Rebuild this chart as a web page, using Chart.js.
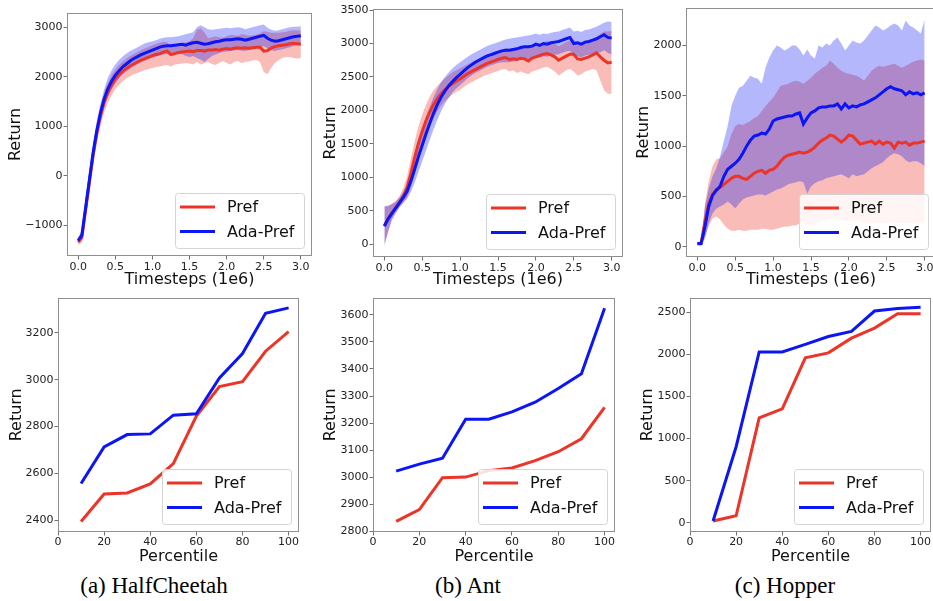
<!DOCTYPE html>
<html>
<head>
<meta charset="utf-8">
<script src="https://cdn.jsdelivr.net/npm/chart.js@4/dist/chart.umd.min.js"></script>
<style>
  body { margin: 0; width: 933px; height: 601px; overflow: hidden; background: #fff; position: relative; }
  canvas { position: absolute; }
  .cap { position: absolute; top: 574px; width: 220px; text-align: center; font: 23px/23px 'Liberation Serif', 'Times New Roman', serif; color: #000; white-space: nowrap; }
</style>
</head>
<body>
<canvas id="hcCurve" width="316" height="292" style="left:0;top:0"></canvas>
<canvas id="antCurve" width="316" height="292" style="left:311px;top:0"></canvas>
<canvas id="hopCurve" width="320" height="292" style="left:622px;top:0"></canvas>
<canvas id="hcPct" width="303" height="280" style="left:0;top:290px"></canvas>
<canvas id="antPct" width="308" height="280" style="left:311px;top:290px"></canvas>
<canvas id="hopPct" width="313" height="280" style="left:622px;top:290px"></canvas>
<div class="cap" style="left:44px">(a) HalfCheetah</div>
<div class="cap" style="left:358px">(b) Ant</div>
<div class="cap" style="left:675px">(c) Hopper</div>

<script>
// timesteps (1e6)
const steps = [
  0, 0.05, 0.1, 0.15, 0.2, 0.25, 0.3, 0.35, 0.4, 0.45,
  0.5, 0.55, 0.6, 0.65, 0.7, 0.75, 0.8, 0.85, 0.9, 0.95,
  1.0, 1.05, 1.1, 1.15, 1.2, 1.25, 1.3, 1.35, 1.4, 1.45,
  1.5, 1.55, 1.6, 1.65, 1.7, 1.75, 1.8, 1.85, 1.9, 1.95,
  2.0, 2.05, 2.1, 2.15, 2.2, 2.25, 2.3, 2.35, 2.4, 2.45,
  2.5, 2.55, 2.6, 2.65, 2.7, 2.75, 2.8, 2.85, 2.9, 2.95,
  3.0
];
const timeTicks = [0, 0.5, 1.0, 1.5, 2.0, 2.5, 3.0];
const percentiles = [10, 20, 30, 40, 50, 60, 70, 80, 90, 100];
const percentileTicks = [0, 20, 40, 60, 80, 100];

// HalfCheetah learning curves
const hcPrefMean = [
  -1340, -1250, -700, -150, 400, 850, 1200, 1480, 1680, 1830,
  1950, 2040, 2110, 2170, 2220, 2260, 2300, 2340, 2370, 2400,
  2430, 2450, 2470, 2500, 2520, 2450, 2470, 2490, 2500, 2510,
  2520, 2510, 2530, 2530, 2520, 2540, 2540, 2550, 2540, 2560,
  2570, 2560, 2580, 2590, 2580, 2590, 2580, 2590, 2600, 2600,
  2520, 2530, 2580, 2610, 2630, 2640, 2650, 2670, 2680, 2670,
  2660
];
const hcPrefLow = [
  -1400, -1350, -850, -350, 200, 650, 1000, 1280, 1480, 1630,
  1750, 1840, 1910, 1970, 2010, 2050, 2080, 2110, 2140, 2160,
  2180, 2200, 2210, 2230, 2240, 2210, 2250, 2260, 2270, 2280,
  2270, 2250, 2300, 2250, 2280, 2300, 2260, 2240, 2280, 2320,
  2280, 2250, 2300, 2320, 2280, 2300, 2310, 2330, 2340, 2300,
  2100, 2050, 2180, 2280, 2340, 2380, 2400, 2400, 2380, 2370,
  2380
];
const hcPrefHigh = [
  -1280, -1150, -550, 50, 600, 1050, 1400, 1680, 1880, 2030,
  2150, 2240, 2310, 2370, 2420, 2460, 2500, 2540, 2580, 2610,
  2640, 2670, 2690, 2710, 2700, 2620, 2650, 2670, 2690, 2700,
  2720, 2780, 2950, 2980, 2900, 2780, 2800, 2820, 2800, 2790,
  2820, 2850, 2840, 2830, 2860, 2850, 2830, 2840, 2850, 2880,
  2920, 2910, 2890, 2890, 2890, 2900, 2910, 2930, 2940, 2940,
  2930
];
const hcAdaMean = [
  -1310, -1200, -650, -100, 450, 900, 1270, 1550, 1760, 1910,
  2030, 2120, 2200, 2260, 2320, 2370, 2410, 2450, 2480, 2510,
  2540, 2570, 2600, 2620, 2630, 2630, 2640, 2650, 2660, 2640,
  2670, 2690, 2700, 2680, 2660, 2670, 2690, 2710, 2720, 2740,
  2750, 2750, 2760, 2770, 2760, 2740, 2760, 2780, 2800, 2820,
  2840, 2780, 2740, 2720, 2730, 2750, 2770, 2790, 2810, 2820,
  2830
];
const hcAdaLow = [
  -1350, -1300, -800, -250, 300, 750, 1120, 1400, 1600, 1750,
  1870, 1970, 2050, 2110, 2170, 2220, 2260, 2300, 2330, 2360,
  2390, 2410, 2430, 2450, 2460, 2450, 2460, 2470, 2460, 2420,
  2400, 2420, 2380, 2350, 2300, 2360, 2420, 2450, 2480, 2500,
  2510, 2520, 2530, 2540, 2530, 2520, 2540, 2560, 2580, 2600,
  2620, 2580, 2540, 2520, 2540, 2560, 2580, 2600, 2620, 2640,
  2650
];
const hcAdaHigh = [
  -1250, -1100, -450, 100, 650, 1100, 1450, 1750, 1980, 2130,
  2250, 2340, 2410, 2470, 2520, 2560, 2600, 2640, 2680, 2700,
  2720, 2740, 2770, 2790, 2800, 2800, 2810, 2820, 2840, 2860,
  2880, 2900, 3000, 3040, 3000, 2960, 2950, 2960, 2970, 2980,
  2990, 2980, 2990, 3000, 2990, 2960, 2980, 3000, 3020, 3040,
  3060, 2990, 2950, 2930, 2940, 2960, 2980, 3000, 3010, 3010,
  3020
];

// Ant learning curves
const antPrefMean = [
  280, 380, 470, 550, 630, 720, 850, 1060, 1300, 1510,
  1690, 1850, 1980, 2090, 2180, 2250, 2310, 2360, 2400, 2440,
  2470, 2510, 2550, 2580, 2610, 2640, 2670, 2700, 2720, 2740,
  2760, 2780, 2790, 2760, 2770, 2760, 2780, 2770, 2740, 2780,
  2800, 2820, 2840, 2850, 2830, 2800, 2750, 2780, 2810, 2840,
  2840, 2770, 2760, 2780, 2800, 2830, 2860, 2800, 2750, 2710,
  2720
];
const antPrefLow = [
  0, 200, 380, 480, 560, 620, 700, 860, 1080, 1290,
  1470, 1630, 1770, 1890, 1990, 2070, 2140, 2190, 2240, 2280,
  2310, 2350, 2390, 2420, 2450, 2480, 2510, 2530, 2550, 2570,
  2590, 2610, 2620, 2580, 2600, 2560, 2580, 2560, 2540, 2580,
  2600, 2620, 2640, 2650, 2620, 2580, 2520, 2560, 2600, 2620,
  2580, 2520, 2540, 2580, 2600, 2620, 2600, 2450, 2300, 2250,
  2250
];
const antPrefHigh = [
  560, 570, 600, 640, 720, 840, 1020, 1280, 1540, 1760,
  1940, 2090, 2210, 2300, 2370, 2430, 2480, 2530, 2570, 2600,
  2630, 2660, 2690, 2720, 2750, 2780, 2800, 2830, 2850, 2870,
  2890, 2910, 2930, 2920, 2930, 2940, 2960, 2950, 2930, 2960,
  2980, 3000, 3020, 3040, 3020, 3000, 2960, 2990, 3020, 3050,
  3060, 3000, 2990, 3000, 3020, 3060, 3100, 3140, 3180, 3180,
  3190
];
const antAdaMean = [
  270, 380, 460, 540, 620, 700, 790, 940, 1120, 1310,
  1480, 1650, 1810, 1960, 2090, 2200, 2290, 2370, 2430, 2490,
  2540, 2590, 2640, 2680, 2720, 2750, 2780, 2810, 2830, 2850,
  2870, 2890, 2900, 2900, 2910, 2920, 2940, 2950, 2950, 2960,
  2990, 2970, 3000, 2990, 3010, 3020, 3030, 3050, 3070, 3090,
  3000, 3010, 2990, 3020, 3030, 3050, 3070, 3100, 3130, 3090,
  3080
];
const antAdaLow = [
  -30, 180, 360, 460, 550, 620, 680, 780, 920, 1080,
  1240, 1400, 1560, 1720, 1860, 1990, 2100, 2190, 2270, 2330,
  2380, 2430, 2480, 2520, 2560, 2590, 2620, 2650, 2670, 2690,
  2710, 2720, 2720, 2720, 2730, 2740, 2760, 2770, 2770, 2780,
  2800, 2790, 2810, 2800, 2820, 2830, 2840, 2860, 2880, 2890,
  2800, 2810, 2790, 2820, 2830, 2840, 2850, 2870, 2900, 2860,
  2830
];
const antAdaHigh = [
  570, 580, 600, 640, 700, 780, 900, 1100, 1320, 1540,
  1730, 1900, 2060, 2200, 2320, 2420, 2500, 2570, 2630, 2680,
  2720, 2760, 2800, 2840, 2870, 2900, 2930, 2960, 2980, 3000,
  3020, 3040, 3060, 3070, 3080, 3090, 3100, 3110, 3120, 3130,
  3150, 3130, 3150, 3140, 3160, 3170, 3180, 3200, 3220, 3240,
  3180, 3190, 3170, 3200, 3210, 3230, 3250, 3280, 3310, 3330,
  3320
];

// Hopper learning curves
const hopPrefMean = [
  30, 40, 250, 430, 520, 570, 590, 620, 650, 680,
  700, 700, 680, 670, 700, 730, 750, 760, 730, 760,
  770, 800, 850, 890, 910, 920, 930, 940, 930, 940,
  960, 990, 1030, 1060, 1080, 1110, 1100, 1070, 1040, 1070,
  1110, 1100, 1060, 1020, 1030, 1040, 1050, 1020, 1050, 1020,
  1040, 1030, 980, 1040, 1030, 1040, 1010, 1030, 1030, 1040,
  1050
];
const hopPrefLow = [
  30, 30, 100, 200, 280, 300, 270, 220, 180, 160,
  160, 170, 160, 160, 170, 170, 170, 180, 180, 170,
  170, 180, 190, 200, 200, 210, 210, 230, 240, 220,
  210, 220, 240, 260, 260, 280, 270, 260, 270, 250,
  260, 250, 260, 250, 240, 230, 230, 240, 240, 230,
  240, 250, 240, 240, 240, 230, 240, 230, 230, 240,
  250
];
const hopPrefHigh = [
  30, 50, 420, 650, 800, 870, 880, 940, 1000, 1120,
  1200, 1220, 1210, 1230, 1250, 1280, 1300, 1350, 1400, 1440,
  1480, 1540, 1600, 1610, 1620, 1640, 1650, 1640, 1620, 1650,
  1680, 1720, 1750, 1780, 1800, 1850, 1820, 1780, 1750, 1730,
  1720, 1710, 1700, 1680, 1650, 1700, 1750, 1780, 1800, 1790,
  1800, 1810, 1820, 1800, 1780, 1800, 1820, 1840, 1850, 1860,
  1850
];
const hopAdaMean = [
  30, 30, 200, 400, 510, 560, 600, 700, 770, 800,
  830, 870, 930, 1000, 1060, 1100, 1110, 1130, 1120, 1170,
  1250, 1270, 1280, 1290, 1300, 1300, 1320, 1330, 1220, 1280,
  1330, 1350, 1380, 1390, 1390, 1400, 1400, 1420, 1370, 1420,
  1380, 1400, 1390, 1410, 1420, 1440, 1460, 1480, 1510, 1540,
  1570, 1590, 1570, 1560, 1550, 1510, 1540, 1520, 1530, 1510,
  1530
];
const hopAdaLow = [
  30, 20, 80, 230, 330, 380, 400, 420, 450, 420,
  380, 430, 470, 490, 500, 510, 520, 520, 510, 530,
  550, 570, 580, 600, 620, 630, 640, 650, 640, 530,
  600, 630, 650, 660, 680, 690, 700, 710, 720, 700,
  680, 720, 700, 710, 720, 750, 780, 800, 820, 840,
  880, 910, 930, 920, 900, 860, 840, 850, 850, 830,
  800
];
const hopAdaHigh = [
  30, 40, 400, 580, 700, 780, 900, 1050, 1200, 1400,
  1500, 1580, 1600, 1650, 1700, 1680, 1670, 1620, 1780, 1880,
  1950, 2000, 1980, 1950, 1970, 2000, 2000, 1960, 1900, 1960,
  1900, 1870, 2000, 1980, 2020, 2000, 2050, 2080, 2020, 1950,
  2000, 2050, 2030, 2020, 2050, 2100, 2150, 2200, 2180, 2150,
  2170, 2200, 2220, 2200, 2150, 2250, 2200, 2180, 2150, 2120,
  2260
];

// return per percentile of evaluation episodes
const hcPctPref = [2395, 2512, 2517, 2555, 2642, 2845, 2971, 2992, 3122, 3206];
const hcPctAda = [2557, 2713, 2766, 2769, 2849, 2855, 3008, 3112, 3284, 3307];
const antPctPref = [2836, 2880, 2998, 3000, 3024, 3034, 3061, 3094, 3142, 3258];
const antPctAda = [3022, 3048, 3070, 3214, 3214, 3241, 3277, 3328, 3382, 3625];
const hopPctPref = [23, 85, 1244, 1353, 1957, 2016, 2190, 2310, 2481, 2481];
const hopPctAda = [23, 903, 2027, 2027, 2116, 2209, 2271, 2512, 2543, 2558];

const RED = 'rgb(236,52,40)';
const BLUE = 'rgb(12,22,244)';
const RED_FILL = 'rgba(236,52,40,0.33)';
const BLUE_FILL = 'rgba(12,22,244,0.31)';
const FONT = "'DejaVu Sans', 'Liberation Sans', sans-serif";

function pts(xs, ys) {
  return xs.map((x, i) => ({ x: x, y: ys[i] }));
}

function meanLine(label, color, xs, ys) {
  return { label: label, data: pts(xs, ys), borderColor: color, borderWidth: 3,
           pointRadius: 0, fill: false, tension: 0, inLegend: true };
}

function bandEdge(xs, ys, fillColor, isUpper) {
  return { data: pts(xs, ys), borderColor: 'rgba(0,0,0,0)', borderWidth: 0, pointRadius: 0,
           backgroundColor: fillColor, fill: isUpper ? '+1' : false, tension: 0 };
}

// grey box around the plot area
const frame = {
  id: 'frame',
  afterDatasetsDraw(chart) {
    const a = chart.chartArea, ctx = chart.ctx;
    ctx.save();
    ctx.strokeStyle = '#8f8f8f';
    ctx.lineWidth = 1;
    ctx.strokeRect(Math.round(a.left) + 0.5, Math.round(a.top) + 0.5,
                   Math.round(a.right - a.left) - 1, Math.round(a.bottom - a.top) - 1);
    ctx.restore();
  }
};

// legend drawn inside the plot, lower right
const insetLegend = {
  id: 'insetLegend',
  afterDraw(chart) {
    const a = chart.chartArea, ctx = chart.ctx;
    const w = 129, h = 55;
    const x = Math.round(a.right - 8 - w), y = Math.round(a.bottom - 8 - h);
    ctx.save();
    ctx.beginPath();
    ctx.roundRect(x + 0.5, y + 0.5, w, h, 3);
    ctx.fillStyle = 'rgba(255,255,255,0.85)';
    ctx.fill();
    ctx.strokeStyle = '#d4d4d4';
    ctx.lineWidth = 1;
    ctx.stroke();
    const items = chart.data.datasets.filter(d => d.inLegend);
    // red entry first, as in the figure
    items.sort((p, q) => (p.label === 'Pref' ? -1 : 1));
    ctx.font = '16px ' + FONT;
    ctx.textBaseline = 'middle';
    items.forEach((d, i) => {
      const ly = y + 14 + i * 24.6;
      ctx.strokeStyle = d.borderColor;
      ctx.lineWidth = 3;
      ctx.beginPath();
      ctx.moveTo(x + 5, ly);
      ctx.lineTo(x + 40, ly);
      ctx.stroke();
      ctx.fillStyle = '#111';
      ctx.fillText(d.label, x + 52, ly + 1);
    });
    ctx.restore();
  }
};

function axis(o) {
  return {
    type: 'linear',
    min: o.min,
    max: o.max,
    afterBuildTicks: s => { s.ticks = o.ticks.map(v => ({ value: v })); },
    afterFit: s => { if (o.horizontal) { s.height = o.size; } else { s.width = o.size; } },
    grid: { drawOnChartArea: false, drawTicks: true, tickLength: 3.5, tickColor: '#707070', tickWidth: 1 },
    border: { display: false },
    ticks: {
      autoSkip: false, maxRotation: 0, padding: o.tickPad, color: '#222',
      font: { family: FONT, size: 11 },
      callback: o.format
    },
    title: {
      display: true, text: o.title, color: '#111',
      font: { family: FONT, size: 16 },
      padding: o.titlePad
    }
  };
}

const fmtTime = v => v.toFixed(1);
const fmtInt = v => (v < 0 ? '\u2212' + Math.abs(v) : String(v));

function draw(id, datasets, g) {
  new Chart(document.getElementById(id), {
    type: 'line',
    data: { datasets: datasets },
    options: {
      responsive: false,
      animation: false,
      events: [],
      layout: { padding: { top: g.padTop, right: g.padRight, left: 0, bottom: 0 } },
      plugins: { legend: { display: false }, tooltip: { enabled: false } },
      scales: {
        x: axis({ horizontal: true, min: g.xMin, max: g.xMax, ticks: g.xTicks, size: g.xSize,
                  format: g.xFormat, title: g.xTitle, tickPad: g.xTickPad,
                  titlePad: { top: 0, bottom: g.xTitlePad } }),
        y: axis({ horizontal: false, min: g.yMin, max: g.yMax, ticks: g.yTicks, size: g.ySize,
                  format: fmtInt, title: 'Return', tickPad: 1,
                  titlePad: { top: g.yTitlePad, bottom: 0 } })
      }
    },
    plugins: [frame, insetLegend]
  });
}

function curveSets(pm, pl, ph, am, al, ah) {
  return [
    meanLine('Ada-Pref', BLUE, steps, am),
    meanLine('Pref', RED, steps, pm),
    bandEdge(steps, ah, BLUE_FILL, true),
    bandEdge(steps, al, BLUE_FILL, false),
    bandEdge(steps, ph, RED_FILL, true),
    bandEdge(steps, pl, RED_FILL, false)
  ];
}

function pctSets(p, a) {
  return [
    meanLine('Ada-Pref', BLUE, percentiles, a),
    meanLine('Pref', RED, percentiles, p)
  ];
}

const topRow = { xMin: -0.15, xMax: 3.15, xTicks: timeTicks, xFormat: fmtTime,
                 xTitle: 'Timesteps (1e6)', xTickPad: 1, xTitlePad: 2.4 };
const bottomRow = { xMin: 0, xMax: 104.5, xTicks: percentileTicks, xFormat: fmtInt,
                    xTitle: 'Percentile', xTickPad: 0, xTitlePad: 3.7 };

draw('hcCurve', curveSets(hcPrefMean, hcPrefLow, hcPrefHigh, hcAdaMean, hcAdaLow, hcAdaHigh),
  Object.assign({}, topRow, { padTop: 13, padRight: 4, ySize: 67, xSize: 36, yTitlePad: 6.4,
    yMin: -1620, yMax: 3290, yTicks: [-1000, 0, 1000, 2000, 3000] }));

draw('antCurve', curveSets(antPrefMean, antPrefLow, antPrefHigh, antAdaMean, antAdaLow, antAdaHigh),
  Object.assign({}, topRow, { padTop: 9, padRight: 4, ySize: 62, xSize: 35, yTitlePad: 10,
    yMin: -190, yMax: 3515, yTicks: [0, 500, 1000, 1500, 2000, 2500, 3000, 3500] }));

draw('hopCurve', curveSets(hopPrefMean, hopPrefLow, hopPrefHigh, hopAdaMean, hopAdaLow, hopAdaHigh),
  Object.assign({}, topRow, { padTop: 7, padRight: 6, ySize: 64, xSize: 35, yTitlePad: 12.6,
    yMin: -102, yMax: 2377, yTicks: [0, 500, 1000, 1500, 2000] }));

draw('hcPct', pctSets(hcPctPref, hcPctAda),
  Object.assign({}, bottomRow, { padTop: 2, padRight: 4, ySize: 58, xSize: 38, yTitlePad: 7,
    yMin: 2350, yMax: 3351, yTicks: [2400, 2600, 2800, 3000, 3200] }));

draw('antPct', pctSets(antPctPref, antPctAda),
  Object.assign({}, bottomRow, { padTop: 3, padRight: 4, ySize: 62, xSize: 38, yTitlePad: 10.7,
    yMin: 2797, yMax: 3664, yTicks: [2800, 2900, 3000, 3100, 3200, 3300, 3400, 3500, 3600] }));

draw('hopPct', pctSets(hopPctPref, hopPctAda),
  Object.assign({}, bottomRow, { padTop: 3, padRight: 4, ySize: 68, xSize: 38, yTitlePad: 16.2,
    yMin: -108, yMax: 2671, yTicks: [0, 500, 1000, 1500, 2000, 2500] }));
</script>
</body>
</html>
